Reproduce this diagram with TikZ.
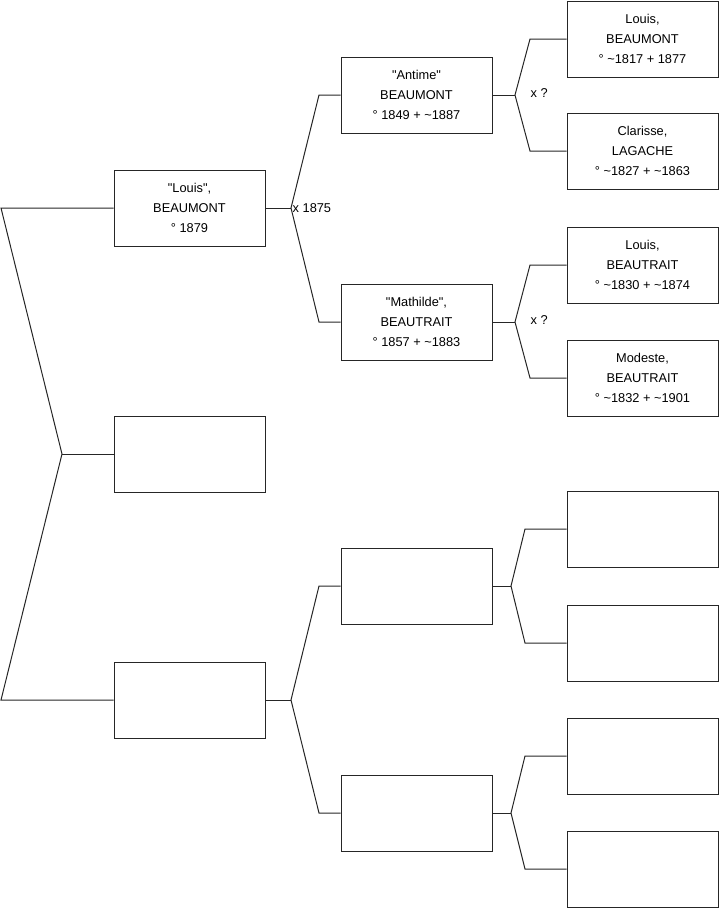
\documentclass[tikz,border=0pt]{standalone}
\usepackage{fontspec}
\setmainfont{Liberation Sans}[Ligatures=TeXOff]
\usetikzlibrary{positioning}
\newcommand{\ca}{\textasciitilde}
\tikzset{
  person/.style={draw=black!85, fill=white, line width=1pt,
        minimum width=151pt, minimum height=76pt, align=center,
        inner sep=0pt, font=\fontsize{12.8}{20}\selectfont},
  link/.style={draw=black!85, line width=1pt},
  mlab/.style={anchor=west, inner sep=0.5pt, font=\fontsize{12.8}{15}\selectfont}
}

\begin{document}
\begin{tikzpicture}[x=1pt, y=-1pt]
\useasboundingbox (0,0) rectangle (719,908);

% generation 1
\node[person] (n1) at (189.5,208) {"Louis",\\BEAUMONT\\° 1879};
\node[person] (e1) at (189.5,454) {};
\node[person] (m1) at (189.5,700) {};

% generation 2
\node[person] (n2) at (416.5,95)  {"Antime"\\BEAUMONT\\° 1849 + \ca1887};
\node[person] (n3) at (416.5,322) {"Mathilde",\\BEAUTRAIT\\° 1857 + \ca1883};
\node[person] (m2) at (416.5,586) {};
\node[person] (m3) at (416.5,813) {};

% generation 3
\node[person] (n4) at (642.5,39)  {Louis,\\BEAUMONT\\° \ca1817 + 1877};
\node[person] (n5) at (642.5,151) {Clarisse,\\LAGACHE\\° \ca1827 + \ca1863};
\node[person] (n6) at (642.5,265) {Louis,\\BEAUTRAIT\\° \ca1830 + \ca1874};
\node[person] (n7) at (642.5,378) {Modeste,\\BEAUTRAIT\\° \ca1832 + \ca1901};
\node[person] (m4) at (642.5,529) {};
\node[person] (m5) at (642.5,643) {};
\node[person] (m6) at (642.5,756) {};
\node[person] (m7) at (642.5,869) {};

% fork points
\coordinate (r0) at (62,454);
\coordinate (r1) at (1,208);
\coordinate (r2) at (1,700);
\coordinate (j1) at (291,208);
\coordinate (c2) at (319,95);
\coordinate (c3) at (319,322);
\coordinate (j2) at (515,95);
\coordinate (c4) at (530,39);
\coordinate (c5) at (530,151);
\coordinate (j3) at (515,322);
\coordinate (c6) at (530,265);
\coordinate (c7) at (530,378);
\coordinate (k1) at (291,700);
\coordinate (d2) at (319,586);
\coordinate (d3) at (319,813);
\coordinate (k2) at (511,586);
\coordinate (d4) at (525,529);
\coordinate (d5) at (525,643);
\coordinate (k3) at (511,813);
\coordinate (d6) at (525,756);
\coordinate (d7) at (525,869);

% links
\draw[link] (n1.west) -- (r1) -- (r0) -- (r2) -- (m1.west);
\draw[link] (r0) -- (e1.west);

\draw[link] (n1.east) -- (j1);
\draw[link] (n2.west) -- (c2) -- (j1) -- (c3) -- (n3.west);
\draw[link] (n2.east) -- (j2);
\draw[link] (n4.west) -- (c4) -- (j2) -- (c5) -- (n5.west);
\draw[link] (n3.east) -- (j3);
\draw[link] (n6.west) -- (c6) -- (j3) -- (c7) -- (n7.west);

\draw[link] (m1.east) -- (k1);
\draw[link] (m2.west) -- (d2) -- (k1) -- (d3) -- (m3.west);
\draw[link] (m2.east) -- (k2);
\draw[link] (m4.west) -- (d4) -- (k2) -- (d5) -- (m5.west);
\draw[link] (m3.east) -- (k3);
\draw[link] (m6.west) -- (d6) -- (k3) -- (d7) -- (m7.west);

% marriages
\node[mlab] (x1) at (292,208) {x 1875};
\node[mlab] (x2) at (530,93)  {x ?};
\node[mlab] (x3) at (530,320) {x ?};
\end{tikzpicture}
\end{document}
